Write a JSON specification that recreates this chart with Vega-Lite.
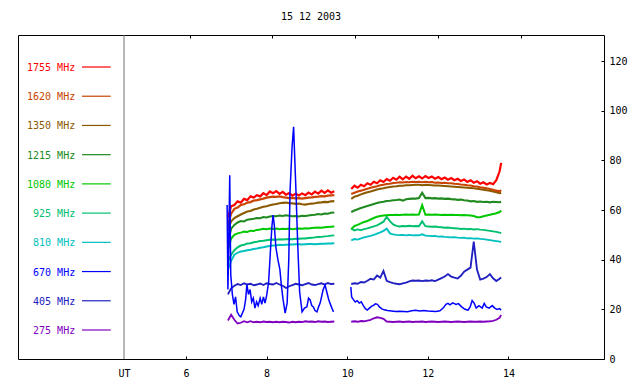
{
"$schema":"https://vega.github.io/schema/vega-lite/v6.json",
"width":586,"height":324,
"autosize":{"type":"none"},
"padding":{"left":18,"top":35,"right":36,"bottom":25},
"background":"#ffffff",
"title":{"text":"15 12 2003","font":"DejaVu Sans Mono","fontSize":10,"fontWeight":"normal","color":"#000000","offset":13,"anchor":"middle"},
"config":{"view":{"stroke":"#000000","strokeWidth":1},
"axis":{"labelFont":"DejaVu Sans Mono","labelFontSize":10,"labelColor":"#000000","tickColor":"#000000","domain":false,"grid":false,"labelFlush":false,"title":null},
"text":{"font":"DejaVu Sans Mono","fontSize":10}},
"datasets":{
"legend":[{"k":"a","lab":"1755 MHz"},{"k":"b","lab":"1620 MHz"},{"k":"c","lab":"1350 MHz"},{"k":"d","lab":"1215 MHz"},{"k":"e","lab":"1080 MHz"},{"k":"f","lab":"925 MHz"},{"k":"g","lab":"810 MHz"},{"k":"h","lab":"670 MHz"},{"k":"i","lab":"405 MHz"},{"k":"j","lab":"275 MHz"}],
"grid":[
{"t":7.04,"a":57,"b":54,"c":52,"d":47,"e":44,"f":39,"g":36,"i":26,"j":15.5},
{"t":7.12,"a":61.5,"b":58.5,"c":55.5,"d":52.5,"e":48.5,"f":42,"g":39.5,"i":28.5,"j":17.8},
{"t":7.20,"a":62,"b":60.5,"c":56.8,"d":54,"e":50,"f":43.8,"g":42,"i":29.5,"j":15.8},
{"t":7.28,"a":63.5,"b":61,"c":57.5,"d":55,"e":50.6,"f":45,"g":42.8,"i":30.2,"j":14.3},
{"t":7.36,"a":63,"b":62,"c":58.2,"d":55.6,"e":50.9,"f":45.7,"g":43.3,"i":29.8,"j":14.6},
{"t":7.44,"a":64.5,"b":62.3,"c":58.8,"d":55.4,"e":51.3,"f":46,"g":43.5,"i":30.5,"j":15.2},
{"t":7.52,"a":64,"b":63,"c":59.4,"d":56.1,"e":51.2,"f":46.5,"g":43.8,"i":30,"j":14.8},
{"t":7.60,"a":65.5,"b":63.2,"c":59.6,"d":56.3,"e":51.7,"f":46.6,"g":44,"i":30.3,"j":15.2},
{"t":7.68,"a":65,"b":63.8,"c":60.2,"d":56.5,"e":51.6,"f":47,"g":44.3,"i":29.7,"j":14.8},
{"t":7.76,"a":66,"b":64,"c":60.5,"d":56.8,"e":52,"f":47.2,"g":44.5,"i":30,"j":15},
{"t":7.84,"a":65.5,"b":64.3,"c":60.9,"d":56.7,"e":52.2,"f":47.5,"g":44.8,"i":30.4,"j":14.8},
{"t":7.92,"a":66.8,"b":64.6,"c":61.3,"d":57.2,"e":52.5,"f":47.6,"g":45,"i":29.8,"j":15.1},
{"t":8.00,"a":66,"b":65,"c":61.5,"d":57,"e":52.3,"f":47.8,"g":45.3,"i":30.5,"j":14.9},
{"t":8.08,"a":67.5,"b":65.2,"c":61.9,"d":57.4,"e":52.6,"f":48,"g":45.5,"i":30.2,"j":15},
{"t":8.16,"a":66.8,"b":65.4,"c":62.2,"d":57.6,"e":52.4,"f":48.1,"g":45.7,"i":30,"j":14.8},
{"t":8.24,"a":67.6,"b":65.3,"c":62.4,"d":57.5,"e":52.6,"f":48,"g":45.8,"i":30.6,"j":15},
{"t":8.32,"a":66.5,"b":65.5,"c":62.7,"d":57.8,"e":52.3,"f":48.2,"g":46,"i":30,"j":14.8},
{"t":8.40,"a":67.3,"b":65.2,"c":62.9,"d":57.6,"e":52.5,"f":48.1,"g":45.9,"i":29.5,"j":15},
{"t":8.48,"a":66.2,"b":65,"c":63,"d":57.9,"e":52.4,"f":48.2,"g":46,"i":28.6,"j":14.9},
{"t":8.56,"a":66.8,"b":64.8,"c":62.8,"d":57.7,"e":52.6,"f":48.3,"g":46.1,"i":29.3,"j":14.7},
{"t":8.64,"a":65.8,"b":64.9,"c":62.7,"d":57.5,"e":52.3,"f":48.2,"g":46.1,"i":29.8,"j":15},
{"t":8.72,"a":66.6,"b":64.7,"c":62.5,"d":57.6,"e":52.5,"f":48.4,"g":46.2,"i":30.3,"j":14.8},
{"t":8.80,"a":65.9,"b":64.8,"c":62.6,"d":57.4,"e":52.6,"f":48.4,"g":46.2,"i":30,"j":15},
{"t":8.88,"a":66.7,"b":64.6,"c":62.3,"d":57.7,"e":52.5,"f":48.5,"g":46.1,"i":29.7,"j":14.9},
{"t":8.96,"a":66,"b":64.8,"c":62.2,"d":57.6,"e":52.7,"f":48.5,"g":46.2,"i":30.2,"j":15.2},
{"t":9.04,"a":67,"b":65,"c":62.4,"d":57.8,"e":52.6,"f":48.7,"g":46.3,"i":30.6,"j":15},
{"t":9.12,"a":66.3,"b":65.1,"c":62.6,"d":58,"e":52.8,"f":48.8,"g":46.3,"i":30,"j":15.1},
{"t":9.20,"a":67.4,"b":65.3,"c":62.7,"d":58.1,"e":52.9,"f":49,"g":46.2,"i":29.8,"j":14.9},
{"t":9.28,"a":66.6,"b":65.4,"c":63,"d":58.4,"e":53,"f":49.1,"g":46.3,"i":30.2,"j":15.2},
{"t":9.36,"a":67.8,"b":65.6,"c":63.1,"d":58.2,"e":52.9,"f":49.2,"g":46.4,"i":30.5,"j":15},
{"t":9.44,"a":66.9,"b":65.5,"c":63.3,"d":58.6,"e":53.1,"f":49.4,"g":46.4,"i":30,"j":15.1},
{"t":9.52,"a":67.9,"b":65.8,"c":63.2,"d":58.5,"e":53.2,"f":49.5,"g":46.5,"i":30.6,"j":14.9},
{"t":9.60,"a":67,"b":65.9,"c":63.5,"d":58.9,"e":53.3,"f":49.7,"g":46.5,"i":30.2,"j":15},
{"t":9.68,"a":67.6,"b":66,"c":63.6,"d":59,"e":53.4,"f":49.8,"g":46.6,"i":30.3,"j":15.1},
{"t":9.85,"a":null,"b":null,"c":null,"d":null,"e":null,"f":null,"g":null,"i":null,"j":null},
{"t":10.10,"a":68.5,"b":66.5,"c":64.5,"d":59.2,"e":52.3,"f":52.5,"g":47.8,"i":30.2,"j":15},
{"t":10.18,"a":69.8,"b":67,"c":65.4,"d":59.8,"e":53.6,"f":51.8,"g":48.3,"i":30.5,"j":15.2},
{"t":10.26,"a":69,"b":67.5,"c":65.8,"d":60.3,"e":54,"f":52.2,"g":48.1,"i":30.3,"j":15},
{"t":10.34,"a":70.2,"b":67.8,"c":66.3,"d":60.8,"e":54.6,"f":51.9,"g":48.6,"i":31,"j":15.3},
{"t":10.42,"a":69.6,"b":68.2,"c":66.8,"d":61.2,"e":55.2,"f":52.3,"g":49,"i":30.8,"j":15.2},
{"t":10.50,"a":70.8,"b":68.6,"c":67.2,"d":61.6,"e":55.6,"f":52.6,"g":49.3,"i":31.5,"j":15.5},
{"t":10.58,"a":70.2,"b":69,"c":67.5,"d":62,"e":56.2,"f":53,"g":49.6,"i":32.3,"j":15.8},
{"t":10.66,"a":71.4,"b":69.3,"c":67.9,"d":62.4,"e":56.8,"f":53.4,"g":50,"i":32,"j":16.4},
{"t":10.74,"a":70.8,"b":69.6,"c":68.3,"d":62.8,"e":57.3,"f":53.8,"g":50.5,"i":33.6,"j":16.8},
{"t":10.82,"a":72,"b":70,"c":68.6,"d":63.1,"e":57.6,"f":54.5,"g":51,"i":32.8,"j":16.6},
{"t":10.90,"a":71.3,"b":70.2,"c":68.8,"d":63.3,"e":57.8,"f":55.3,"g":51.6,"i":35.5,"j":16.2},
{"t":10.98,"a":72.5,"b":70.5,"c":69.1,"d":63.6,"e":57.9,"f":57.2,"g":52.5,"i":31.5,"j":15.1},
{"t":11.06,"a":71.8,"b":70.6,"c":69.3,"d":63.7,"e":58,"f":55.5,"g":50.6,"i":31,"j":15},
{"t":11.14,"a":73,"b":70.9,"c":69.5,"d":63.9,"e":58,"f":54.2,"g":50.2,"i":30.6,"j":14.9},
{"t":11.22,"a":72.2,"b":71,"c":69.6,"d":64,"e":58.1,"f":53.6,"g":50,"i":30.3,"j":15},
{"t":11.30,"a":73.4,"b":71.2,"c":69.8,"d":64.2,"e":58,"f":53.4,"g":49.9,"i":30.1,"j":15.1},
{"t":11.38,"a":72.4,"b":71.1,"c":69.8,"d":63.8,"e":58.1,"f":53.6,"g":50,"i":30.5,"j":14.9},
{"t":11.46,"a":73.5,"b":71.3,"c":70,"d":64.3,"e":58.2,"f":53.5,"g":49.8,"i":30.8,"j":15},
{"t":11.54,"a":72.6,"b":71.2,"c":70,"d":64.5,"e":58.1,"f":53.7,"g":50,"i":31.3,"j":15.1},
{"t":11.62,"a":73.8,"b":71.4,"c":70.1,"d":64.6,"e":58.2,"f":53.5,"g":49.8,"i":31.6,"j":14.9},
{"t":11.70,"a":72.8,"b":71.3,"c":70.2,"d":64.6,"e":58.1,"f":53.6,"g":49.9,"i":31.5,"j":15},
{"t":11.78,"a":73.6,"b":71.4,"c":70.2,"d":64.8,"e":58.2,"f":53.5,"g":49.8,"i":31.6,"j":15},
{"t":11.86,"a":72.7,"b":71.2,"c":70,"d":67,"e":62,"f":55.5,"g":50.2,"i":31.4,"j":15.1},
{"t":11.94,"a":73.7,"b":71.4,"c":70.2,"d":64.8,"e":58.1,"f":53.5,"g":49.7,"i":31.6,"j":14.9},
{"t":12.02,"a":72.9,"b":71.2,"c":70.1,"d":64.9,"e":58.2,"f":53.4,"g":49.6,"i":31.5,"j":15},
{"t":12.10,"a":73.5,"b":71.3,"c":70,"d":64.7,"e":58.1,"f":53.3,"g":49.5,"i":31.7,"j":15.1},
{"t":12.18,"a":72.6,"b":71,"c":69.9,"d":64.8,"e":58.2,"f":53.4,"g":49.6,"i":31.4,"j":15},
{"t":12.26,"a":73.3,"b":71.1,"c":69.9,"d":64.6,"e":58.1,"f":53.2,"g":49.3,"i":32,"j":14.9},
{"t":12.34,"a":72.4,"b":70.9,"c":69.8,"d":64.7,"e":58,"f":53.1,"g":49.4,"i":32.6,"j":15},
{"t":12.42,"a":73.1,"b":71,"c":69.7,"d":64.5,"e":58.1,"f":52.9,"g":49.2,"i":33.2,"j":15.1},
{"t":12.50,"a":72.2,"b":70.8,"c":69.6,"d":64.6,"e":58,"f":53,"g":49.1,"i":34.2,"j":15},
{"t":12.58,"a":72.9,"b":70.8,"c":69.5,"d":64.4,"e":58.1,"f":52.8,"g":49,"i":33.2,"j":14.9},
{"t":12.66,"a":72,"b":70.6,"c":69.4,"d":64.3,"e":58,"f":52.7,"g":49.1,"i":32.8,"j":15},
{"t":12.74,"a":72.6,"b":70.5,"c":69.3,"d":64.1,"e":58,"f":52.6,"g":48.9,"i":32.4,"j":15.1},
{"t":12.82,"a":71.7,"b":70.3,"c":69.2,"d":64.2,"e":57.9,"f":52.4,"g":48.8,"i":33.5,"j":15},
{"t":12.90,"a":72.3,"b":70.2,"c":69.1,"d":63.9,"e":58,"f":52.5,"g":48.9,"i":35.2,"j":14.9},
{"t":12.98,"a":71.3,"b":70,"c":69,"d":63.8,"e":57.9,"f":52.3,"g":48.6,"i":36,"j":15},
{"t":13.06,"a":72,"b":69.9,"c":68.9,"d":63.5,"e":57.8,"f":52.4,"g":48.7,"i":36.8,"j":15.1},
{"t":13.14,"a":71,"b":69.6,"c":68.8,"d":63.6,"e":57.6,"f":52.2,"g":48.5,"i":47.3,"j":15},
{"t":13.22,"a":71.6,"b":69.5,"c":68.6,"d":63.3,"e":57.1,"f":52.3,"g":48.6,"i":36,"j":15},
{"t":13.30,"a":70.6,"b":69.2,"c":68.4,"d":63.4,"e":57.1,"f":52.1,"g":48.4,"i":32,"j":15.1},
{"t":13.38,"a":71.2,"b":69,"c":68.2,"d":63.2,"e":57.5,"f":52,"g":48.3,"i":32.4,"j":15},
{"t":13.46,"a":70.3,"b":68.8,"c":68,"d":63.3,"e":57.8,"f":51.8,"g":48.1,"i":33,"j":15.1},
{"t":13.54,"a":70.9,"b":68.5,"c":67.8,"d":63.1,"e":58.1,"f":51.6,"g":47.9,"i":34.2,"j":15.2},
{"t":13.62,"a":70.4,"b":68.2,"c":67.5,"d":63.3,"e":58.4,"f":51.4,"g":47.7,"i":32.5,"j":15.4},
{"t":13.70,"a":72,"b":67.8,"c":67.2,"d":63.2,"e":58.7,"f":51.2,"g":47.5,"i":31.4,"j":15.8},
{"t":13.78,"a":75.5,"b":67.5,"c":66.8,"d":63.1,"e":59.2,"f":50.9,"g":47.3,"i":32.3,"j":16.6},
{"t":13.82,"a":79,"b":68,"c":67,"d":63.3,"e":59.8,"f":50.7,"g":47.2,"i":32.8,"j":17.7}
],
"blue":[
{"t":7.02,"v":62},{"t":7.04,"v":28},{"t":7.06,"v":45},{"t":7.085,"v":74},{"t":7.11,"v":34},{"t":7.15,"v":26},{"t":7.19,"v":22},{"t":7.23,"v":25},{"t":7.27,"v":19},{"t":7.32,"v":17.5},{"t":7.36,"v":17},{"t":7.40,"v":18.5},{"t":7.44,"v":20},{"t":7.48,"v":24},{"t":7.51,"v":30},{"t":7.55,"v":26},{"t":7.59,"v":28},{"t":7.63,"v":23},{"t":7.67,"v":24.5},{"t":7.71,"v":20.5},{"t":7.75,"v":23},{"t":7.79,"v":21.5},{"t":7.84,"v":24.5},{"t":7.88,"v":22},{"t":7.92,"v":25},{"t":7.96,"v":22.5},{"t":8.00,"v":25.5},{"t":8.05,"v":31},{"t":8.10,"v":45},{"t":8.13,"v":53},{"t":8.16,"v":58},{"t":8.19,"v":54},{"t":8.23,"v":45},{"t":8.28,"v":40},{"t":8.33,"v":36},{"t":8.37,"v":29},{"t":8.41,"v":23.8},{"t":8.46,"v":18.5},{"t":8.51,"v":22.6},{"t":8.55,"v":40},{"t":8.58,"v":67},{"t":8.63,"v":85},{"t":8.67,"v":93.5},{"t":8.70,"v":80},{"t":8.73,"v":67},{"t":8.77,"v":47},{"t":8.82,"v":27},{"t":8.88,"v":19},{"t":8.94,"v":20.5},{"t":9.00,"v":21},{"t":9.04,"v":24.5},{"t":9.08,"v":23.8},{"t":9.12,"v":21.5},{"t":9.16,"v":21},{"t":9.20,"v":19.5},{"t":9.25,"v":19},{"t":9.29,"v":21},{"t":9.33,"v":22.6},{"t":9.37,"v":25.5},{"t":9.40,"v":27.8},{"t":9.45,"v":29.8},{"t":9.50,"v":26.6},{"t":9.54,"v":24},{"t":9.57,"v":22.6},{"t":9.62,"v":20.5},{"t":9.66,"v":19},
{"t":9.85,"v":null},
{"t":10.09,"v":29},{"t":10.11,"v":25},{"t":10.15,"v":24},{"t":10.20,"v":23},{"t":10.25,"v":23.5},{"t":10.30,"v":22.5},{"t":10.35,"v":23},{"t":10.40,"v":21.5},{"t":10.45,"v":20.3},{"t":10.50,"v":19.7},{"t":10.55,"v":20.5},{"t":10.60,"v":21.2},{"t":10.65,"v":21.6},{"t":10.70,"v":22.2},{"t":10.75,"v":22},{"t":10.80,"v":21},{"t":10.86,"v":20.2},{"t":10.92,"v":19.8},{"t":11.00,"v":19.5},{"t":11.10,"v":19.3},{"t":11.20,"v":19.1},{"t":11.30,"v":19.2},{"t":11.40,"v":19.1},{"t":11.50,"v":19},{"t":11.60,"v":19.4},{"t":11.70,"v":19.6},{"t":11.80,"v":19.3},{"t":11.90,"v":19.5},{"t":12.00,"v":19.3},{"t":12.10,"v":19.2},{"t":12.20,"v":19.1},{"t":12.30,"v":19.4},{"t":12.38,"v":20.5},{"t":12.45,"v":22},{"t":12.50,"v":22.4},{"t":12.55,"v":21.8},{"t":12.62,"v":22.6},{"t":12.70,"v":22},{"t":12.76,"v":22.3},{"t":12.84,"v":21},{"t":12.92,"v":20},{"t":13.00,"v":19.7},{"t":13.05,"v":21},{"t":13.10,"v":23.5},{"t":13.15,"v":22.5},{"t":13.20,"v":20.5},{"t":13.27,"v":21.5},{"t":13.35,"v":20.5},{"t":13.40,"v":22.4},{"t":13.45,"v":21},{"t":13.52,"v":20.5},{"t":13.60,"v":21.5},{"t":13.66,"v":20.5},{"t":13.72,"v":20},{"t":13.78,"v":20.3},{"t":13.82,"v":19.7}
]
},
"layer":[
{"data":{"values":[{}]},
 "mark":{"type":"rule","color":"#707070","strokeWidth":1},
 "encoding":{"x":{"datum":4.462,"type":"quantitative","scale":{"domain":[1.831,16.372],"nice":false,"zero":false},"axis":null}}},
{"data":{"name":"legend"},
 "mark":{"type":"text","align":"right","baseline":"middle","font":"DejaVu Sans Mono","fontSize":10,"dy":1},
 "encoding":{"x":{"datum":3.25,"type":"quantitative","axis":null},
  "y":{"field":"k","type":"ordinal","scale":{"type":"point","padding":0,"domain":["a","b","c","d","e","f","g","h","i","j"],"range":[32,295]},"axis":null},
  "text":{"field":"lab"},
  "color":{"field":"k","type":"nominal","scale":{"domain":["a","b","c","d","e","f","g","h","i","j"],"range":["#FF0000","#C84400","#8B5A00","#208A20","#00C800","#00C070","#00C0C0","#0000FF","#2020C0","#8000C0"]},"legend":null}}},
{"data":{"name":"legend"},
 "mark":{"type":"rule","strokeWidth":1.2},
 "encoding":{"x":{"datum":3.419,"type":"quantitative","axis":null},"x2":{"datum":4.132},
  "y":{"field":"k","type":"ordinal","scale":{"type":"point","padding":0,"domain":["a","b","c","d","e","f","g","h","i","j"],"range":[32,295]},"axis":null},
  "color":{"field":"k","type":"nominal","legend":null}}},
{"data":{"name":"grid"},
 "transform":[{"fold":["j","i","g","f","e","d","c","b","a"],"as":["key","val"]}],
 "mark":{"type":"line"},
 "encoding":{"x":{"field":"t","type":"quantitative","scale":{"domain":[1.831,16.372],"nice":false,"zero":false},
   "axis":{"orient":"bottom","values":[4.462,6,8,10,12,14],"labelExpr":"datum.value < 5 ? 'UT' : datum.label","tickSize":-3,"labelPadding":12,"tickColor":{"condition":{"test":"datum.value < 5","value":"transparent"},"value":"#000000"}}},
  "y":{"field":"val","type":"quantitative","scale":{"domain":[0,130.5],"nice":false,"zero":false},
   "axis":{"orient":"right","values":[0,20,40,60,80,100,120],"tickSize":-3,"labelPadding":8}},
  "color":{"field":"key","type":"nominal","legend":null},
  "strokeWidth":{"field":"key","type":"nominal","scale":{"domain":["a","b","c","d","e","f","g","i","j"],"range":[2.2,1.8,1.5,1.5,1.5,1.4,1.4,1.4,1.3]},"legend":null}}},
{"data":{"name":"blue"},
 "mark":{"type":"line","strokeWidth":1.5},
 "encoding":{"x":{"field":"t","type":"quantitative",
   "axis":{"orient":"top","values":[6.092,8.142,10.201,12.261,14.32],"labels":false,"tickSize":-3}},
  "y":{"field":"v","type":"quantitative","scale":{"domain":[0,130.5],"nice":false,"zero":false},"axis":null},
  "color":{"datum":"h","type":"nominal","legend":null}}}
],
"resolve":{"scale":{"y":"independent"},"axis":{"x":"independent","y":"independent"}}
}
